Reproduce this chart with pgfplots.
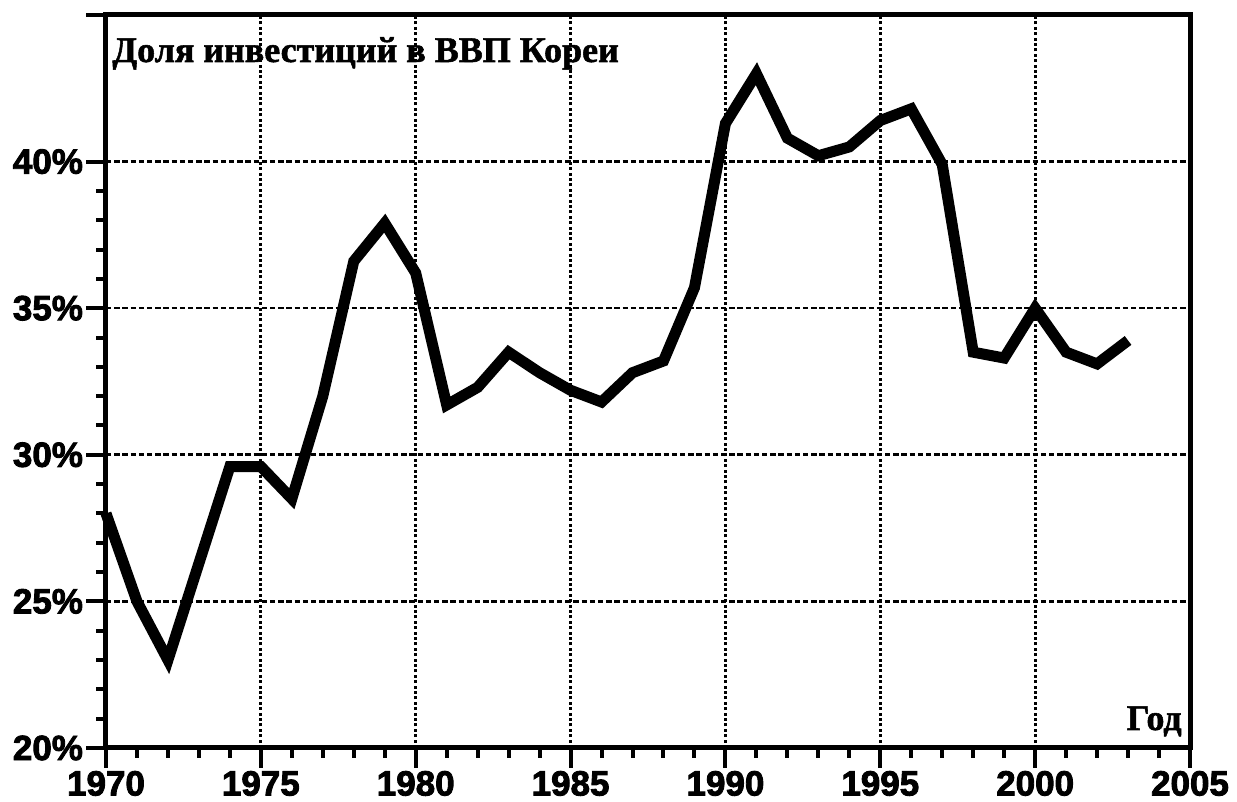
\documentclass[border=0pt]{standalone}
\usepackage{fontspec}
\setmainfont{Liberation Serif}
\newfontfamily\tickfont{Liberation Sans Bold}[FakeBold=2.5]
\newfontfamily\titlefont{Liberation Serif Bold}[FakeBold=1.5]
\usepackage{pgfplots}
\pgfplotsset{compat=1.18}
\begin{document}
\begin{tikzpicture}
\begin{axis}[
  scale only axis,
  width=542pt, height=366.5pt,
  xmin=1970, xmax=2005, ymin=20, ymax=45,
  xtick={1970,1975,...,2005},
  xticklabels={1970,1975,1980,1985,1990,1995,2000,2005},
  minor x tick num=4,
  ytick={20,25,30,35,40},
  yticklabels={20\%,25\%,30\%,35\%,40\%},
  minor y tick num=4,
  extra y ticks={45}, extra y tick labels={}, extra y tick style={grid=none},
  xtick pos=left, ytick pos=left,
  tick align=outside,
  major tick length=10pt, minor tick length=5pt,
  every tick/.style={black, line width=2pt},
  axis line style={black, line width=2.5pt},
  grid=major,
  x grid style={black, line width=1.6pt, dash pattern=on 1.5pt off 1.2pt},
  y grid style={black, line width=1.3pt, dash pattern=on 2.7pt off 1.4pt},
  ticklabel style={font=\tickfont\fontsize{17.5}{17.5}\selectfont},
  xticklabel style={yshift=2pt},
  yticklabel style={xshift=2pt},
  clip=false,
]
\addplot[black, line width=5.5pt] coordinates {
(1970,28.0) (1971,25.0) (1972,23.0) (1973,26.3) (1974,29.6) (1975,29.6)
(1976,28.5) (1977,32.0) (1978,36.6) (1979,37.9) (1980,36.2) (1981,31.7)
(1982,32.3) (1983,33.5) (1984,32.8) (1985,32.2) (1986,31.8) (1987,32.8)
(1988,33.2) (1989,35.7) (1990,41.3) (1991,43.0) (1992,40.8) (1993,40.2)
(1994,40.5) (1995,41.4) (1996,41.8) (1997,39.9) (1998,33.5) (1999,33.3)
(2000,35.0) (2001,33.5) (2002,33.1) (2003,33.9)
};
\node[anchor=base west, inner sep=0pt, font=\titlefont\fontsize{18}{18}\selectfont]
  at ([shift={(3pt,-23.5pt)}]rel axis cs:0,1) {Доля инвестиций в ВВП Кореи};
\node[anchor=base east, inner sep=0pt, font=\titlefont\fontsize{18}{18}\selectfont]
  at ([shift={(-4pt,9pt)}]rel axis cs:1,0) {Год};
\coordinate (sw) at (rel axis cs:0,0);
\coordinate (ne) at (rel axis cs:1,1);
\end{axis}
\pgfresetboundingbox
\path ([shift={(-53pt,-27pt)}]sw) rectangle ([shift={(23.5pt,7.5pt)}]ne);
\end{tikzpicture}
\end{document}
